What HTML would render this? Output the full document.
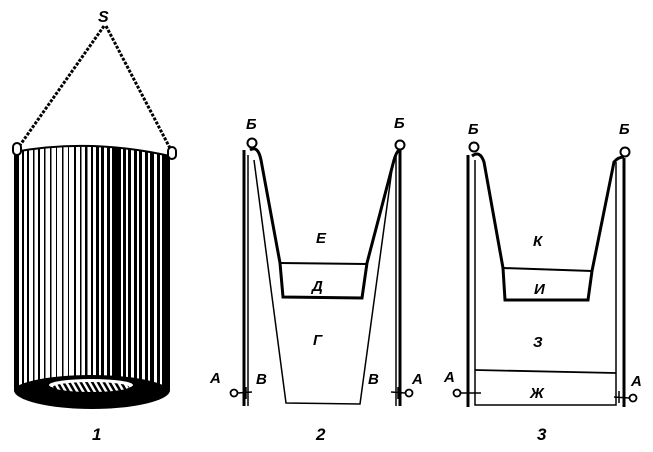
<!DOCTYPE html>
<html><head><meta charset="utf-8"><style>
html,body{margin:0;padding:0;background:#fff;}
svg{display:block;}
text{font-family:"Liberation Sans",sans-serif;font-style:italic;font-weight:bold;fill:#000;}
</style></head><body>
<svg width="653" height="452" viewBox="0 0 653 452" xmlns="http://www.w3.org/2000/svg">
<defs>
<clipPath id="cyl"><path d="M14,152 Q90,138 170,156 L170,390 A78,19 0 0 1 14,390 Z"/></clipPath>
<pattern id="hat" width="5" height="5" patternUnits="userSpaceOnUse" patternTransform="rotate(-30)"><rect width="5" height="5" fill="#000"/><rect width="2.5" height="5" fill="#fff"/></pattern>
</defs>
<!-- figure 1 -->
<text x="98" y="22" font-size="16" font-style="normal">S</text>
<path d="M104,26 L18,148" stroke="#000" stroke-width="3" stroke-dasharray="3,1.5" fill="none"/>
<path d="M106,26 L172,152" stroke="#000" stroke-width="3" stroke-dasharray="3,1.5" fill="none"/>
<g clip-path="url(#cyl)">
<rect x="0" y="130" width="180" height="290" fill="#fff"/>
<g fill="#000">
<rect x="14" y="140" width="5" height="260"/><rect x="22" y="140" width="2" height="260"/>
<rect x="27" y="140" width="2" height="260"/><rect x="33" y="140" width="1.5" height="260"/>
<rect x="38" y="140" width="2" height="260"/><rect x="44" y="140" width="1.5" height="260"/>
<rect x="50" y="140" width="1.5" height="260"/><rect x="56" y="140" width="1" height="260"/>
<rect x="62" y="140" width="1.5" height="260"/><rect x="68" y="140" width="1" height="260"/>
<rect x="74" y="140" width="2" height="260"/><rect x="80" y="140" width="1.5" height="260"/>
<rect x="85" y="140" width="2.5" height="260"/><rect x="91" y="140" width="2" height="260"/>
<rect x="96" y="140" width="3" height="260"/><rect x="101" y="140" width="3" height="260"/>
<rect x="107" y="140" width="3" height="260"/><rect x="112" y="140" width="9" height="260"/>
<rect x="123" y="140" width="3" height="260"/><rect x="128" y="140" width="3" height="260"/>
<rect x="134" y="140" width="3" height="260"/><rect x="139" y="140" width="3" height="260"/>
<rect x="145" y="140" width="3" height="260"/><rect x="150" y="140" width="4" height="260"/>
<rect x="157" y="140" width="3" height="260"/><rect x="162" y="140" width="8" height="260"/>
</g>
<ellipse cx="91" cy="393" rx="80" ry="18" fill="#000"/>
<ellipse cx="91" cy="385" rx="42" ry="6" fill="#fff"/>
<ellipse cx="91" cy="387" rx="38" ry="5" fill="url(#hat)"/>
</g>
<path d="M14,152 Q90,138 170,156" stroke="#000" stroke-width="2" fill="none"/>
<rect x="13" y="143" width="8" height="12" rx="4" fill="#fff" stroke="#000" stroke-width="2"/>
<rect x="168" y="147" width="8" height="12" rx="4" fill="#fff" stroke="#000" stroke-width="2"/>
<text x="92" y="440" font-size="17">1</text>

<!-- figure 2 -->
<g fill="none" stroke="#000">
<circle cx="252" cy="143" r="4.5" stroke-width="2"/>
<circle cx="400" cy="145" r="4.5" stroke-width="2"/>
<path d="M244,150 L244,406" stroke-width="3"/>
<path d="M248,155 L248,406" stroke-width="1.5"/>
<path d="M400,150 L400,406" stroke-width="3"/>
<path d="M396,155 L396,406" stroke-width="1.5"/>
<path d="M250,150 Q258,145 261,160 L280,263 L283,297 L362,298 L367,263 L394,160 Q397,150 400,150" stroke-width="3"/>
<path d="M280,263 L367,264" stroke-width="2"/>
<path d="M254,160 L286,403 L360,404 L393,162" stroke-width="1.5"/>
<circle cx="234" cy="393" r="3.5" stroke-width="1.8"/><path d="M238,393 L252,392 M246,387 L246,399" stroke-width="1.5"/>
<circle cx="409" cy="393" r="3.5" stroke-width="1.8"/><path d="M405,393 L391,392 M398,387 L398,399" stroke-width="1.5"/>
</g>
<g font-size="15">
<text x="246" y="129">Б</text><text x="394" y="128">Б</text>
<text x="316" y="243">Е</text><text x="312" y="291">Д</text><text x="313" y="345">Г</text>
<text x="210" y="383">A</text><text x="256" y="384">В</text>
<text x="368" y="384">В</text><text x="412" y="384">A</text>
</g>
<text x="316" y="440" font-size="17">2</text>

<!-- figure 3 -->
<g fill="none" stroke="#000">
<circle cx="474" cy="147" r="4.5" stroke-width="2"/>
<circle cx="625" cy="152" r="4.5" stroke-width="2"/>
<path d="M468,155 L468,407" stroke-width="3"/>
<path d="M475,160 L475,405 L616,405 L616,162" stroke-width="1.5"/>
<path d="M624,158 L624,407" stroke-width="3"/>
<path d="M472,156 Q480,150 484,162 L503,268 L505,300 L588,300 L592,271 L614,162 Q618,157 624,157" stroke-width="3"/>
<path d="M503,268 L592,271" stroke-width="2"/>
<path d="M475,370 L616,373" stroke-width="1.8"/>
<circle cx="457" cy="393" r="3.5" stroke-width="1.8"/><path d="M461,393 L481,393" stroke-width="1.5"/>
<circle cx="633" cy="398" r="3.5" stroke-width="1.8"/><path d="M629,398 L614,397 M619,391 L619,403" stroke-width="1.5"/>
</g>
<g font-size="15">
<text x="468" y="134">Б</text><text x="619" y="134">Б</text>
<text x="533" y="246">К</text><text x="534" y="294">И</text><text x="533" y="347">З</text><text x="530" y="398">Ж</text>
<text x="444" y="382">A</text><text x="631" y="386">A</text>
</g>
<text x="537" y="440" font-size="17">3</text>
</svg>
</body></html>
